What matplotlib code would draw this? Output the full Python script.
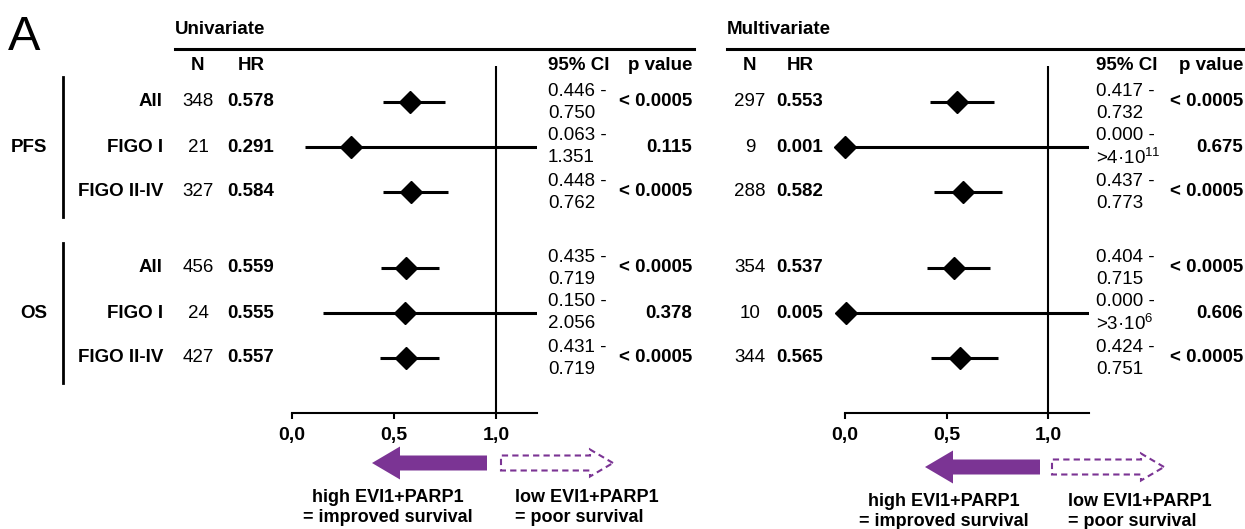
import matplotlib
matplotlib.use('Agg')
from matplotlib import pyplot as plt
from matplotlib.patches import FancyArrow

plt.rcParams['font.family'] = ['Liberation Sans', 'DejaVu Sans']
plt.rcParams['mathtext.fontset'] = 'custom'
plt.rcParams['mathtext.rm'] = 'Liberation Sans'

groups = ['PFS', 'OS']
subgroups = ['All', 'FIGO I', 'FIGO II-IV', 'All', 'FIGO I', 'FIGO II-IV']

uni_n = [348, 21, 327, 456, 24, 427]
uni_hr = [0.578, 0.291, 0.584, 0.559, 0.555, 0.557]
uni_lo = [0.446, 0.063, 0.448, 0.435, 0.150, 0.431]
uni_hi = [0.750, 1.351, 0.762, 0.719, 2.056, 0.719]
uni_hi_txt = ['0.750', '1.351', '0.762', '0.719', '2.056', '0.719']
uni_p = ['< 0.0005', '0.115', '< 0.0005', '< 0.0005', '0.378', '< 0.0005']

multi_n = [297, 9, 288, 354, 10, 344]
multi_hr = [0.553, 0.001, 0.582, 0.537, 0.005, 0.565]
multi_lo = [0.417, 0.000, 0.437, 0.404, 0.000, 0.424]
multi_hi = [0.732, 4e11, 0.773, 0.715, 3e6, 0.751]
multi_hi_txt = ['0.732', '>4\u00b710$^{11}$', '0.773', '0.715', '>3\u00b710$^{6}$', '0.751']
multi_p = ['< 0.0005', '0.675', '< 0.0005', '< 0.0005', '0.606', '< 0.0005']

xticks = [0.0, 0.5, 1.0]
xtick_labels = ['0,0', '0,5', '1,0']

purple = '#7b3494'
W, H = 1245, 529
FS = 13.5

# row centres in pixels
row_y = [102, 147, 192, 268, 313, 358]
group_span = [(77, 217), (243, 383)]
group_y = [147, 313]

fig = plt.figure(figsize=(W / 100, H / 100), dpi=100)
ov = fig.add_axes([0, 0, 1, 1])
ov.set_xlim(0, W)
ov.set_ylim(H, 0)
ov.axis('off')


def forest(x0, x1, n, hr, lo, hi, lo_txt, hi_txt, pv, cols, title, title_x, rule):
    ax = fig.add_axes([x0 / W, (H - 413) / H, (x1 - x0) / W, (413 - 66) / H])
    ax.set_facecolor('none')
    ax.set_xlim(0, 1.2)
    ax.set_ylim(413, 66)
    for s in ['top', 'right', 'left']:
        ax.spines[s].set_visible(False)
    ax.spines['bottom'].set_linewidth(1.5)
    ax.set_yticks([])
    ax.set_xticks(xticks)
    ax.set_xticklabels(xtick_labels, fontsize=14, fontweight='bold')
    ax.tick_params(axis='x', direction='out', length=4, width=1.5, pad=6)
    ax.axvline(1.0, color='black', lw=1.5)
    ax.hlines(row_y, lo, hi, color='black', lw=2.2)
    ax.plot(hr, row_y, 'D', color='black', ms=11, clip_on=False, zorder=5)

    ncx, hrx, cix, px = cols
    ov.text(title_x, 29, title, fontsize=FS, fontweight='bold', va='center', ha='left')
    ov.plot(rule, [49, 49], color='black', lw=2.2)
    ov.text(ncx, 66, 'N', fontsize=FS, fontweight='bold', ha='center', va='center')
    ov.text(hrx, 66, 'HR', fontsize=FS, fontweight='bold', ha='center', va='center')
    ov.text(cix, 66, '95% CI', fontsize=FS, fontweight='bold', ha='left', va='center')
    ov.text(px, 66, 'p value', fontsize=FS, fontweight='bold', ha='right', va='center')
    for i, y in enumerate(row_y):
        ov.text(ncx, y, str(n[i]), fontsize=FS, ha='center', va='center')
        ov.text(hrx, y, f'{hr[i]:.3f}', fontsize=FS, fontweight='bold', ha='center', va='center')
        ov.text(cix, y - 11, f'{lo_txt[i]:.3f} -', fontsize=FS, ha='left', va='center')
        ov.text(cix, y + 11, hi_txt[i], fontsize=FS, ha='left', va='center')
        ov.text(px, y, pv[i], fontsize=FS, fontweight='bold', ha='right', va='center')
    return ax


forest(292, 537, uni_n, uni_hr, uni_lo, uni_hi, uni_lo, uni_hi_txt, uni_p,
       (198, 251, 548, 692), 'Univariate', 175, [175, 694])
forest(845, 1089, multi_n, multi_hr, multi_lo, multi_hi, multi_lo, multi_hi_txt, multi_p,
       (750, 800, 1096, 1243), 'Multivariate', 727, [727, 1245])

# row labels and group bars
for i, y in enumerate(row_y):
    ov.text(163, y, subgroups[i], fontsize=FS, fontweight='bold', ha='right', va='center')
for g, (top, bot), gy in zip(groups, group_span, group_y):
    ov.plot([63, 63], [top, bot], color='black', lw=2)
    ov.text(47, gy, g, fontsize=FS, fontweight='bold', ha='right', va='center')

ov.text(8, 38, 'A', fontsize=35, ha='left', va='center')

# direction arrows
for xl, xr, ya, hx, lx in [(487, 501, 463, 388, 515), (1040, 1052, 467, 944, 1068)]:
    ov.add_patch(FancyArrow(xl, ya, -115, 0, width=15, head_width=33, head_length=28,
                            length_includes_head=True, color=purple, lw=0))
    ov.add_patch(FancyArrow(xr, ya, 112, 0, width=15, head_width=27, head_length=23,
                            length_includes_head=True, fill=False, ec=purple, lw=1.5,
                            ls=(0, (3, 2))))
    ov.text(hx, ya + 34, 'high EVI1+PARP1', fontsize=13, fontweight='bold', ha='center', va='center')
    ov.text(hx, ya + 54, '= improved survival', fontsize=13, fontweight='bold', ha='center', va='center')
    ov.text(lx, ya + 34, 'low EVI1+PARP1', fontsize=13, fontweight='bold', ha='left', va='center')
    ov.text(lx, ya + 54, '= poor survival', fontsize=13, fontweight='bold', ha='left', va='center')

fig.savefig('out.png', dpi=100)
